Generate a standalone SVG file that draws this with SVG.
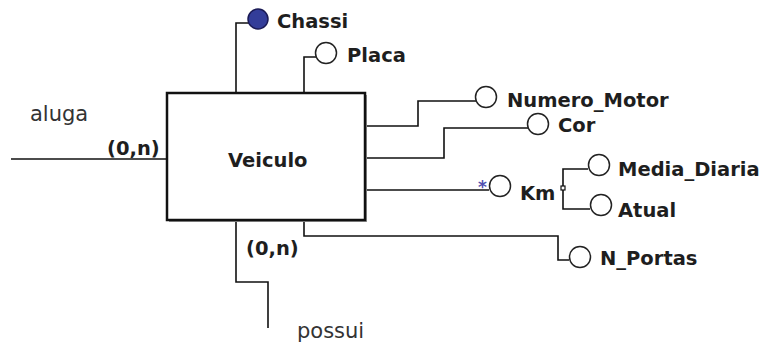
<svg xmlns="http://www.w3.org/2000/svg" width="766" height="344" viewBox="0 0 766 344">
<style>
.b{font-family:"DejaVu Sans",Verdana,sans-serif;font-weight:bold;font-size:19.5px;fill:#1e1e1e}
.n{font-family:"DejaVu Sans",Verdana,sans-serif;font-size:21px;fill:#333}
.ln{fill:none;stroke:#111;stroke-width:1.6}
.at{fill:#fff;stroke:#222;stroke-width:1.5}
</style>
<rect width="766" height="344" fill="#fff"/>
<g id="connectors">
<path class="ln" d="M11,159 H167"/>
<path class="ln" d="M236,219 V282 H268 V328"/>
<path class="ln" d="M304,219 V236 H558 V260 H569"/>
<path class="ln" d="M236,93 V23 H249"/>
<path class="ln" d="M304,93 V57 H316"/>
<path class="ln" d="M367,126 H418 V101 H476"/>
<path class="ln" d="M367,158 H444 V128 H528"/>
<path class="ln" d="M367,190 H489"/>
<path class="ln" d="M563,188 V169 H588 M563,188 V209 H590"/>
</g>
<g id="veiculo">
<rect x="169" y="95" width="198" height="127" fill="#999"/>
<rect x="167" y="93" width="198" height="127" fill="#fff" stroke="#111" stroke-width="2.5"/>
<text class="b" x="228" y="167">Veiculo</text>
</g>
<g id="chassi">
<circle cx="258" cy="19" r="10" fill="#333d99" stroke="#1a1a55" stroke-width="1.5"/>
<text class="b" x="277" y="28">Chassi</text>
</g>
<g id="placa">
<circle class="at" cx="326" cy="53" r="10.5"/>
<text class="b" x="347" y="62">Placa</text>
</g>
<g id="numero_motor">
<circle class="at" cx="486" cy="97" r="10.5"/>
<text class="b" x="507" y="107">Numero_Motor</text>
</g>
<g id="cor">
<circle class="at" cx="538" cy="124" r="10.5"/>
<text class="b" x="558" y="132">Cor</text>
</g>
<g id="km">
<text x="478" y="193" font-family="DejaVu Sans,sans-serif" font-weight="bold" font-size="17" fill="#5050b0">*</text>
<circle class="at" cx="500" cy="186" r="10.5"/>
<text class="b" x="520" y="200">Km</text>
<rect x="561" y="186" width="4" height="4" fill="#fff" stroke="#111" stroke-width="1.2"/>
</g>
<g id="media_diaria">
<circle class="at" cx="599" cy="165" r="10.5"/>
<text class="b" x="618" y="176">Media_Diaria</text>
</g>
<g id="atual">
<circle class="at" cx="601" cy="205" r="10.5"/>
<text class="b" x="618" y="217">Atual</text>
</g>
<g id="n_portas">
<circle class="at" cx="580" cy="257" r="10.5"/>
<text class="b" x="600" y="265">N_Portas</text>
</g>
<g id="labels">
<text class="n" x="30" y="121">aluga</text>
<text class="b" x="107" y="155">(0,n)</text>
<text class="b" x="246" y="255">(0,n)</text>
<text class="n" x="297" y="338">possui</text>
</g>
</svg>
